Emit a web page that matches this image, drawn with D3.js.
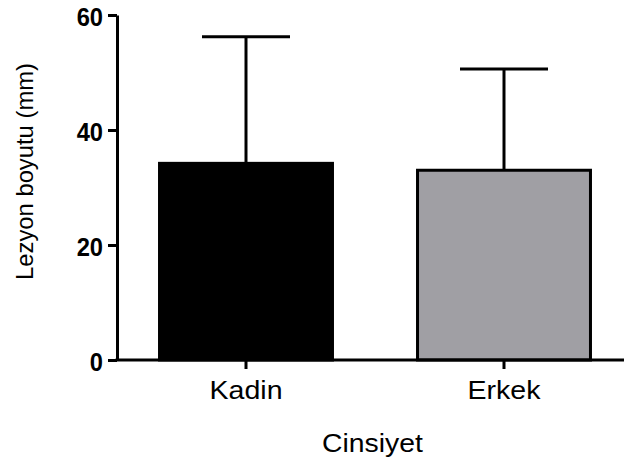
<!DOCTYPE html>
<html>
<head>
<meta charset="utf-8">
<script src="https://cdn.jsdelivr.net/npm/d3@7"></script>
<style>
  html, body { margin: 0; padding: 0; background: #fff; }
  svg { display: block; }
  text { font-family: "Liberation Sans", Arial, Helvetica, sans-serif; fill: #000; }
</style>
</head>
<body>
<svg id="chart" width="624" height="461"></svg>
<script>
const categories = ["Kadin", "Erkek"];
const means = [34.2, 33.0];
const sds = [22.0, 17.6];
const barColors = ["#000000", "#a09fa4"];
const yTicks = [0, 20, 40, 60];
const xTitle = "Cinsiyet";
const yTitle = "Lezyon boyutu (mm)";

const W = 624, H = 461;
const plot = { left: 117, right: 633, top: 15, bottom: 360 };

const svg = d3.select("#chart");

const x = d3.scaleBand()
  .domain(categories)
  .range([plot.left, plot.right])
  .paddingInner(0.318)
  .paddingOuter(0.159);

const y = d3.scaleLinear().domain([0, 60]).range([plot.bottom, plot.top]);

const data = categories.map((c, i) => ({ c, m: means[i], sd: sds[i], color: barColors[i] }));

// bars
svg.append("g").selectAll("rect").data(data).join("rect")
  .attr("x", d => x(d.c) + 1.5)
  .attr("y", d => y(d.m))
  .attr("width", x.bandwidth() - 3)
  .attr("height", d => y(0) - y(d.m))
  .attr("fill", d => d.color)
  .attr("stroke", "#000")
  .attr("stroke-width", 3);

// error bars (upper only)
const capW = 88;
const eb = svg.append("g").attr("stroke", "#000").attr("stroke-width", 3);
eb.selectAll("line.v").data(data).join("line").attr("class", "v")
  .attr("x1", d => x(d.c) + x.bandwidth() / 2)
  .attr("x2", d => x(d.c) + x.bandwidth() / 2)
  .attr("y1", d => y(d.m))
  .attr("y2", d => y(d.m + d.sd));
eb.selectAll("line.h").data(data).join("line").attr("class", "h")
  .attr("x1", d => x(d.c) + x.bandwidth() / 2 - capW / 2)
  .attr("x2", d => x(d.c) + x.bandwidth() / 2 + capW / 2)
  .attr("y1", d => y(d.m + d.sd))
  .attr("y2", d => y(d.m + d.sd));

// y axis
const yAxis = svg.append("g")
  .attr("transform", `translate(${plot.left},0)`)
  .call(d3.axisLeft(y).tickValues(yTicks).tickSize(9).tickSizeOuter(0).tickPadding(5));
yAxis.select(".domain").attr("stroke-width", 3).attr("stroke", "#000");
yAxis.selectAll(".tick line").attr("stroke-width", 3).attr("stroke", "#000");
yAxis.selectAll(".tick text")
  .attr("font-size", 25.5)
  .attr("font-weight", "bold")
  .attr("font-family", "Liberation Sans, Arial, sans-serif")
  .attr("dy", "0.42em")
  .each(function() {
    const t = d3.select(this);
    const xx = +t.attr("x");
    t.attr("transform", `translate(${xx},0) scale(0.93,1) translate(${-xx},0)`);
  });

// x axis
const xAxis = svg.append("g")
  .attr("transform", `translate(0,${plot.bottom})`)
  .call(d3.axisBottom(x).tickSize(9).tickSizeOuter(0).tickPadding(10));
xAxis.select(".domain").attr("d", `M${plot.left - 1.5},0H${W}`).attr("stroke-width", 3).attr("stroke", "#000");
xAxis.selectAll(".tick line").attr("stroke-width", 3).attr("stroke", "#000");
xAxis.selectAll(".tick text")
  .attr("font-size", 25.5)
  .attr("font-family", "Liberation Sans, Arial, sans-serif")
  .attr("dy", null)
  .attr("y", 39)
  .attr("transform", "scale(1.12,1)");

// axis titles
const cx = (plot.left + W) / 2 + 2;
svg.append("text")
  .attr("x", cx)
  .attr("y", 452)
  .attr("text-anchor", "middle")
  .attr("font-size", 26.5)
  .attr("transform", `translate(${cx},0) scale(1.07,1) translate(${-cx},0)`)
  .text(xTitle);

svg.append("text")
  .attr("transform", `translate(33,171.5) rotate(-90)`)
  .attr("text-anchor", "middle")
  .attr("font-size", 23.8)
  .text(yTitle);
</script>
</body>
</html>
